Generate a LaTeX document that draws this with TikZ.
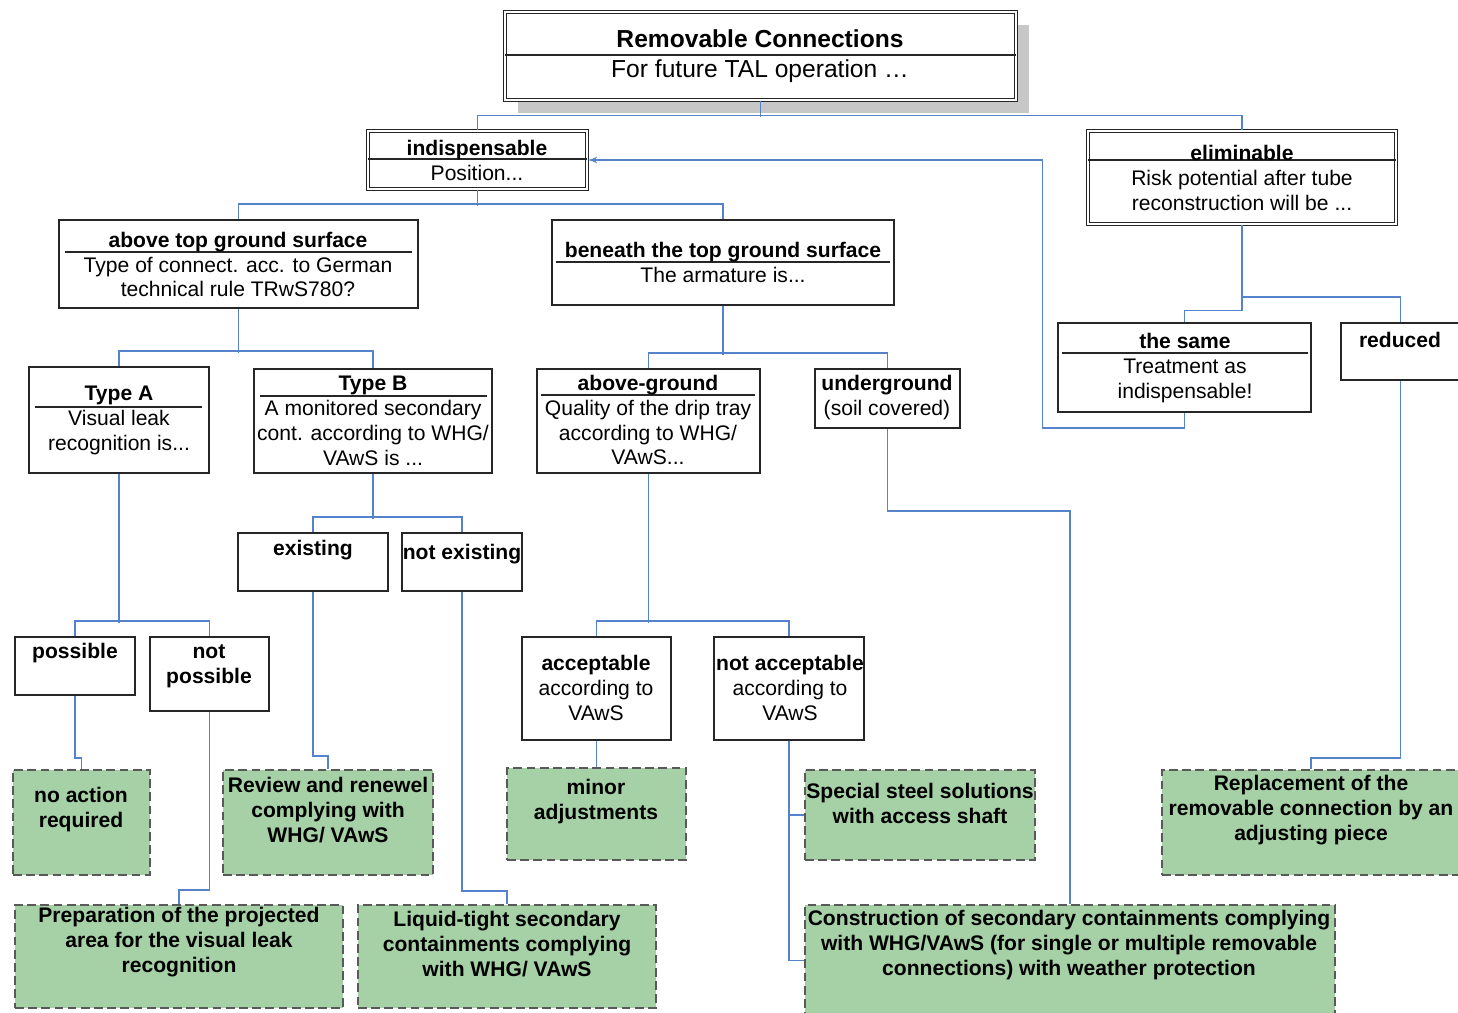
\documentclass[tikz,border=0pt]{standalone}
\usepackage{fontspec}
\setmainfont{Liberation Sans}
\usetikzlibrary{arrows,fit,shadows}
\definecolor{linkblue}{RGB}{84,131,203}
\definecolor{actgreen}{RGB}{166,208,166}

\begin{document}
\begin{tikzpicture}
[x=0.02cm,y=-0.02cm,>=latex',
  plain/.style={draw=black!85,fill=white,line width=0.8pt,inner sep=0pt,fit={#1}},
  twin/.style={plain={#1},double,double distance=1.2pt,line width=0.6pt},
  action/.style={draw=black!65,fill=actgreen,dash pattern=on 5pt off 2.5pt,line width=0.8pt,inner sep=0pt,fit={#1}},
  txt/.style={align=center,inner sep=0pt,font=\fontsize{12}{14.2}\selectfont},
  acttxt/.style={txt,font=\fontsize{12}{14.2}\selectfont\bfseries},
  rule/.style={line width=0.8pt,black!85},
  link/.style={draw=linkblue,line width=0.95pt}]
  \useasboundingbox (0,0) rectangle (1458,1013);

  \node[twin={(505,12) (1016,100)},drop shadow={shadow xshift=0.26cm,shadow yshift=-0.26cm,fill=black!22,opacity=1}] (top) {};
  \draw[rule] (505,55) -- (1016,55);
  \node[txt,font=\fontsize{14}{17}\selectfont] (top-t) at (760,56) {\textbf{Removable Connections}\\For future TAL operation …};

  \node[twin={(368,131) (587,189)}] (indisp) {};
  \draw[rule] (368,159) -- (587,159);
  \node[txt] (indisp-t) at (477,160) {\textbf{indispensable}\\Position...};
  \node[twin={(1088,131) (1396,224)}] (elim) {};
  \draw[rule] (1088,160) -- (1396,160);
  \node[txt] (elim-t) at (1242,178) {\textbf{eliminable}\\Risk potential after tube\\reconstruction will be ...};

  \node[plain={(59,220) (418,308)}] (above) {};
  \draw[rule] (65,252) -- (412,252);
  \node[txt] (above-t) at (238,264.5) {\textbf{above top ground surface}\\Type of connect. acc. to German\\technical rule TRwS780?};
  \node[plain={(552,220) (894,305)}] (beneath) {};
  \draw[rule] (556,262) -- (890,262);
  \node[txt] (beneath-t) at (723,262) {\textbf{beneath the top ground surface}\\The armature is...};

  \node[plain={(29,367) (209,473)}] (typeA) {};
  \draw[rule] (35,407) -- (202,407);
  \node[txt] (typeA-t) at (119,420.5) {\textbf{Type A}\\Visual leak\\recognition is...};
  \node[plain={(254,369) (492,473)}] (typeB) {};
  \draw[rule] (260,396) -- (487,396);
  \node[txt] (typeB-t) at (373,421) {\textbf{Type B}\\A monitored secondary\\cont. according to WHG/\\VAwS is ...};
  \node[plain={(537,369) (760,473)}] (aground) {};
  \draw[rule] (541,395) -- (755,395);
  \node[txt] (aground-t) at (648,420) {\textbf{above-ground}\\Quality of the drip tray\\according to WHG/\\VAwS...};
  \node[plain={(815,369) (960,428)}] (uground) {};
  \node[txt] (uground-t) at (887,398) {\textbf{underground}\\(soil covered)};

  \node[plain={(1058,323) (1311,412)}] (same) {};
  \draw[rule] (1062,353) -- (1308,353);
  \node[txt] (same-t) at (1185,368) {\textbf{the same}\\Treatment as\\indispensable!};
  \node[plain={(1341,323) (1460,380)}] (reduced) {};
  \node[txt] (reduced-t) at (1400,340) {\textbf{reduced}};

  \node[plain={(15,637) (135,695)}] (poss) {};
  \node[txt] (poss-t) at (75,653) {\textbf{possible}};
  \node[plain={(150,637) (269,711)}] (notposs) {};
  \node[txt] (notposs-t) at (209,666) {\textbf{not}\\\textbf{possible}};
  \node[plain={(238,533) (388,591)}] (exist) {};
  \node[txt] (exist-t) at (313,550) {\textbf{existing}};
  \node[plain={(402,533) (522,591)}] (notexist) {};
  \node[txt] (notexist-t) at (462,554) {\textbf{not existing}};
  \node[plain={(522,637) (671,740)}] (accept) {};
  \node[txt] (accept-t) at (596,688) {\textbf{acceptable}\\according to\\VAwS};
  \node[plain={(714,637) (864,740)}] (notaccept) {};
  \node[txt] (notaccept-t) at (790,688) {\textbf{not acceptable}\\according to\\VAwS};

  \node[action={(13,770) (150,875)}] (noact) {};
  \node[acttxt] (noact-t) at (81,810) {no action\\required};
  \node[action={(223,770) (433,875)}] (review) {};
  \node[acttxt] (review-t) at (328,810) {Review and renewel\\complying with\\WHG/ VAwS};
  \node[action={(15,905) (343,1008)}] (prep) {};
  \node[acttxt] (prep-t) at (179,942) {Preparation of the projected\\area for the visual leak\\recognition};
  \node[action={(358,905) (656,1008)}] (liquid) {};
  \node[acttxt] (liquid-t) at (507,944) {Liquid-tight secondary\\containments complying\\with WHG/ VAwS};
  \node[action={(507,768) (686,860)}] (minor) {};
  \node[acttxt] (minor-t) at (596,802) {minor\\adjustments};
  \node[action={(805,770) (1035,860)}] (special) {};
  \node[acttxt] (special-t) at (920,803) {Special steel solutions\\with access shaft};
  \node[action={(805,905) (1335,1016)}] (constr) {};
  \node[acttxt] (constr-t) at (1069,945) {Construction of secondary containments complying\\with WHG/VAwS (for single or multiple removable\\connections) with weather protection};
  \node[action={(1162,770) (1460,875)}] (replace) {};
  \node[acttxt] (replace-t) at (1311,810) {Replacement of the\\removable connection by an\\adjusting piece};

  \draw[link] (top.south) -- ++(0,16);
  \draw[link] (indisp.north) -- ++(0,-15) -| (elim.north);
  \draw[link] (indisp.south) -- ++(0,16);
  \draw[link] (above.north) -- ++(0,-15) -| (beneath.north);
  \draw[link] (above.south) -- ++(0,44);
  \draw[link] (typeA.north) -- ++(0,-15) -| (typeB.north);
  \draw[link] (beneath.south) -- ++(0,49);
  \draw[link] (aground.north) -- ++(0,-15) -| (uground.north);
  \draw[link] (typeA.south) -- ++(0,149);
  \draw[link] (poss.north) -- ++(0,-15) -| (notposs.north);
  \draw[link] (typeB.south) -- ++(0,45);
  \draw[link] (exist.north) -- ++(0,-15) -| (notexist.north);
  \draw[link] (aground.south) -- ++(0,149);
  \draw[link] (accept.north) -- ++(0,-15) -| (notaccept.north);
  \draw[link] (reduced.north) -- ++(0,-25) -| (elim.south);
  \draw[link] (elim.south) -- ++(0,86) -| (same.north);
  \draw[link,->] (same.south) -- ++(0,15) -- ++(-142,0) |- (indisp.east);
  \draw[link] (uground.south) -- ++(0,82) -| (constr.north);
  \draw[link] (poss.south) -- ++(0,62) -| (noact.north);
  \draw[link] (exist.south) -- ++(0,164) -| (review.north);
  \draw[link] (notposs.south) -- ++(0,178) -| (prep.north);
  \draw[link] (notexist.south) -- ++(0,299) -| (liquid.north);
  \draw[link] (accept.south) -- (minor.north);
  \draw[link] (notaccept.south) |- (special.west);
  \draw[link] (notaccept.south) |- (constr.west);
  \draw[link] (reduced.south) -- ++(0,377) -| (replace.north);
\end{tikzpicture}
\end{document}
